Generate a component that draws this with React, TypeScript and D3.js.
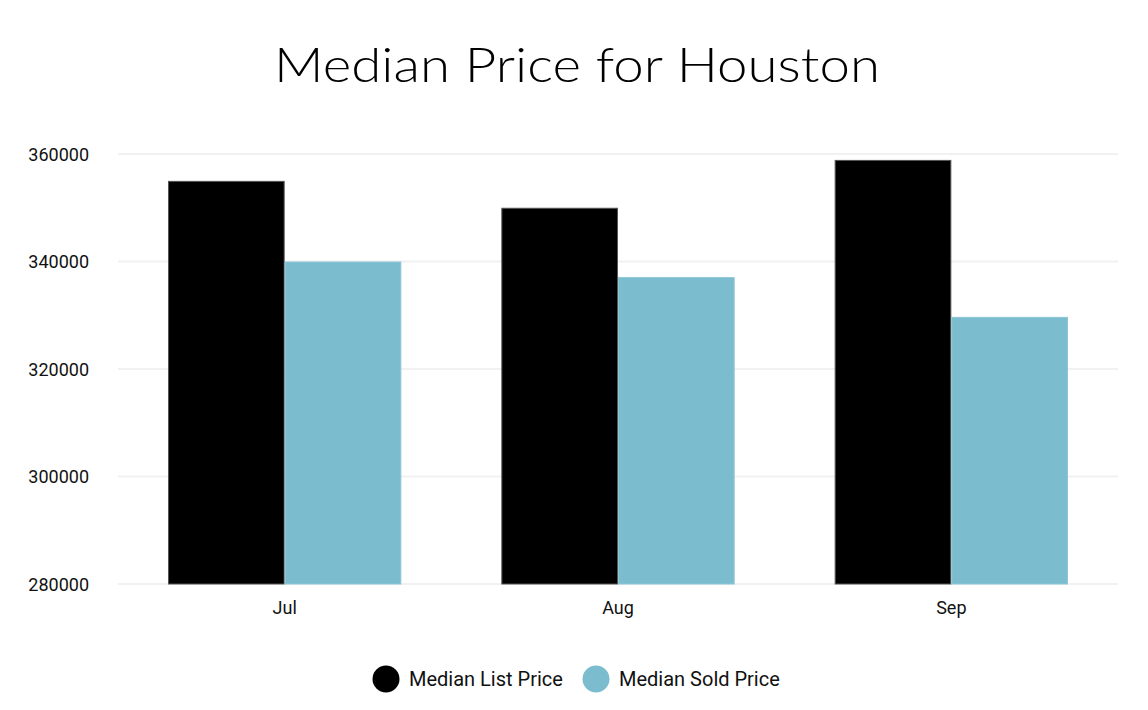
import * as d3 from 'd3';

const months = ['Jul', 'Aug', 'Sep'];
const seriesNames = ['Median List Price', 'Median Sold Price'];
const listPrice = [355000, 350000, 358900];
const soldPrice = [340000, 337100, 329700];
const yTicks = [280000, 300000, 320000, 340000, 360000];

const colors = ['#000000', '#7bbdcf'];
const strokes = ['#555555', '#8ec6d6'];

const WIDTH = 1148;
const HEIGHT = 710;
const margin = { top: 154, right: 30, bottom: 126, left: 118 };

export default function App() {
  const x = d3
    .scaleBand<string>()
    .domain(months)
    .range([margin.left, WIDTH - margin.right])
    .paddingInner(0.3)
    .paddingOuter(0.15);

  const x1 = d3
    .scaleBand<string>()
    .domain(seriesNames)
    .range([0, x.bandwidth()]);

  const y = d3
    .scaleLinear()
    .domain([280000, 360000])
    .range([HEIGHT - margin.bottom, margin.top]);

  const series = [listPrice, soldPrice];

  return (
    <svg
      width={WIDTH}
      height={HEIGHT}
      style={{ position: 'absolute', left: 0, top: 0, background: '#fff' }}
    >
      <text
        x={577}
        y={82}
        textAnchor="middle"
        fontFamily="Lato, 'Open Sans', sans-serif"
        fontSize={48}
        fontWeight={300}
        textLength={606}
        lengthAdjust="spacingAndGlyphs"
        fill="#000"
      >
        Median Price for Houston
      </text>

      {/* gridlines + y labels */}
      {yTicks.map((t) => (
        <g key={t}>
          <line
            x1={margin.left}
            x2={WIDTH - margin.right}
            y1={y(t)}
            y2={y(t)}
            stroke="#f1f1f1"
            strokeWidth={2}
          />
          <text
            x={89}
            y={y(t)}
            textAnchor="end"
            dominantBaseline="central"
            fontFamily="Roboto, sans-serif"
            fontSize={18}
            fill="#111"
          >
            {t}
          </text>
        </g>
      ))}

      {/* bars */}
      {months.map((m, i) => (
        <g key={m} transform={`translate(${x(m)},0)`}>
          {series.map((vals, s) => (
            <rect
              key={s}
              x={x1(seriesNames[s])! + 0.5}
              y={y(vals[i]) + 0.5}
              width={x1.bandwidth() - 1}
              height={y(280000) - y(vals[i]) - 0.5}
              fill={colors[s]}
              stroke={strokes[s]}
              strokeWidth={1}
            />
          ))}
        </g>
      ))}

      {/* x labels */}
      {months.map((m) => (
        <text
          key={m}
          x={x(m)! + x.bandwidth() / 2}
          y={607}
          textAnchor="middle"
          dominantBaseline="central"
          fontFamily="Roboto, sans-serif"
          fontSize={18}
          fill="#111"
        >
          {m}
        </text>
      ))}

      {/* legend */}
      {seriesNames.map((name, s) => {
        const cx = s === 0 ? 386 : 596;
        return (
          <g key={name}>
            <circle cx={cx} cy={679} r={13.5} fill={colors[s]} />
            <text
              x={cx + 23}
              y={679}
              dominantBaseline="central"
              fontFamily="Roboto, sans-serif"
              fontSize={20}
              fill="#111"
            >
              {name}
            </text>
          </g>
        );
      })}
    </svg>
  );
}
